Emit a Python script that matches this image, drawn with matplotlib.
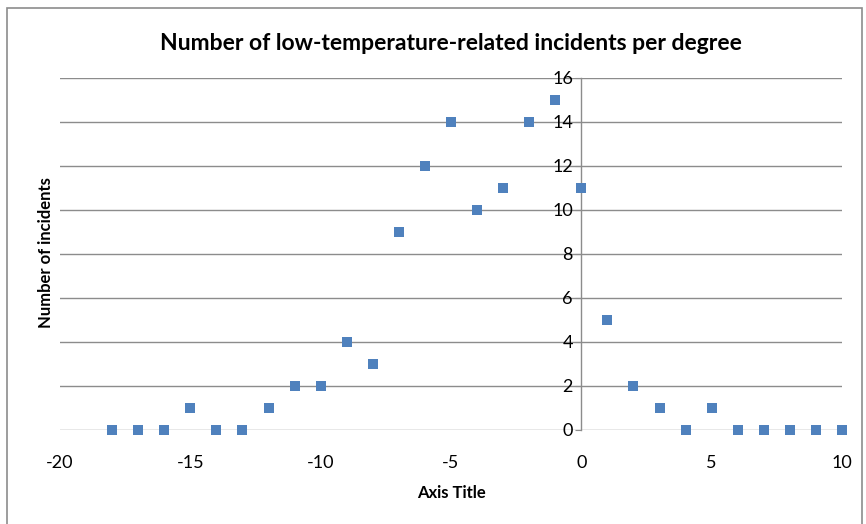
import matplotlib
matplotlib.use("Agg")
import matplotlib.pyplot as plt
from matplotlib.patches import Rectangle

plt.rcParams["font.family"] = ["Lato", "DejaVu Sans"]
plt.rcParams["axes.unicode_minus"] = False

# temperature (degrees) and incident counts
temps = list(range(-18, 11))
incidents = [0, 0, 0, 1, 0, 0, 1, 2, 2, 4, 3, 9, 12, 14, 10, 11, 14, 15,
             11, 5, 2, 1, 0, 1, 0, 0, 0, 0, 0]
x_ticks = [-20, -15, -10, -5, 0, 5, 10]
y_ticks = [0, 2, 4, 6, 8, 10, 12, 14, 16]

GRID = "#8c8c8c"

fig = plt.figure(figsize=(8.66, 5.24), dpi=100)
ax = fig.add_axes([60 / 866, 1 - 430 / 524, 782 / 866, 352 / 524])

ax.scatter(temps, incidents, marker="s", s=62, color="#4F81BD", zorder=3,
           linewidths=0, clip_on=False)

ax.set_xlim(-20, 10)
ax.set_ylim(0, 16)
ax.set_xticks(x_ticks)
ax.set_yticks(y_ticks)
ax.yaxis.grid(True, color=GRID, linewidth=1)
ax.set_axisbelow(True)

for side in ["top", "right", "bottom"]:
    ax.spines[side].set_visible(False)
ax.spines["left"].set_position(("data", 0))
ax.spines["left"].set_color(GRID)
ax.spines["left"].set_linewidth(1)

ax.tick_params(axis="y", length=4, color=GRID, labelsize=13, pad=2)
ax.tick_params(axis="x", length=0, labelsize=13, pad=18)

ax.set_title("Number of low-temperature-related incidents per degree",
             fontsize=16.5, fontweight="bold", pad=20)
ax.set_xlabel("Axis Title", fontsize=12, fontweight="bold", labelpad=10)
fig.text(46 / 866, 1 - 253 / 524, "Number of incidents", rotation=90,
         fontsize=12, fontweight="bold", ha="center", va="center")

# outer chart border
fig.add_artist(Rectangle((7 / 866, -0.05), 855 / 866, 1 - 8 / 524 + 0.05,
                         transform=fig.transFigure, fill=False,
                         edgecolor="#8c8c8c", linewidth=1.2))

fig.savefig("out.png", dpi=100)
